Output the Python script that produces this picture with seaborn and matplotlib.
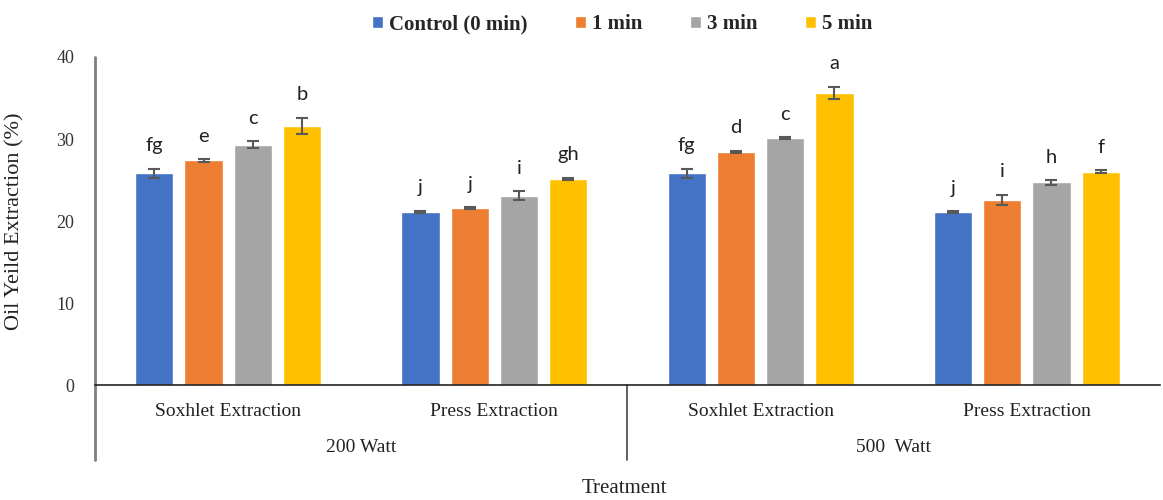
import matplotlib
matplotlib.use("Agg")
import matplotlib.pyplot as plt
import matplotlib.transforms as mtransforms
import seaborn as sns
import pandas as pd
import numpy as np

# data
methods = ["Soxhlet Extraction", "Press Extraction", "Soxhlet Extraction ", "Press Extraction "]
tick_labels = ["Soxhlet Extraction", "Press Extraction", "Soxhlet Extraction", "Press Extraction"]
powers = ["200 Watt", "500  Watt"]
times = ["Control (0 min)", "1 min", "3 min", "5 min"]

control = [25.8, 21.1, 25.8, 21.1]
min1 = [27.4, 21.6, 28.4, 22.6]
min3 = [29.3, 23.1, 30.1, 24.7]
min5 = [31.6, 25.1, 35.6, 26.0]

err_control = [0.55, 0.15, 0.6, 0.1]
err_min1 = [0.15, 0.1, 0.15, 0.6]
err_min3 = [0.45, 0.5, 0.1, 0.3]
err_min5 = [1.0, 0.15, 0.75, 0.2]

letters_control = ["fg", "j", "fg", "j"]
letters_min1 = ["e", "j", "d", "i"]
letters_min3 = ["c", "i", "c", "h"]
letters_min5 = ["b", "gh", "a", "f"]

colors = ["#4472C4", "#ED7D31", "#A5A5A5", "#FFC000"]

rows = []
for t, vals, errs, lets in zip(times,
                               [control, min1, min3, min5],
                               [err_control, err_min1, err_min3, err_min5],
                               [letters_control, letters_min1, letters_min3, letters_min5]):
    for m, v, e, l in zip(methods, vals, errs, lets):
        rows.append({"Method": m, "Time": t, "Yield": v, "Err": e, "Letter": l})
df = pd.DataFrame(rows)

sns.set_theme(style="white")
plt.rcParams["font.family"] = ["Liberation Serif", "DejaVu Serif"]

fig = plt.figure(figsize=(11.63, 5), dpi=100)
ax = fig.add_axes([0.0817, 0.23, 0.9157, 0.656])

sns.barplot(data=df, x="Method", y="Yield", hue="Time", order=methods, hue_order=times,
            palette=colors, width=0.74, gap=0.22, errorbar=None, saturation=1,
            legend=True, ax=ax)

# error bars and significance letters on each bar
for cont, t in zip(ax.containers, times):
    sub = df[df["Time"] == t].set_index("Method").loc[methods]
    xs = [p.get_x() + p.get_width() / 2 for p in cont.patches]
    ax.errorbar(xs, sub["Yield"], yerr=sub["Err"], fmt="none", ecolor="#595959",
                elinewidth=1.5, capsize=4, capthick=1.5)
    for x, v, e, l in zip(xs, sub["Yield"], sub["Err"], sub["Letter"]):
        ax.text(x, v + e + 2.8, l, ha="center", va="center", fontsize=14.5,
                family=["Lato", "DejaVu Sans"], color="#222222")

ax.set_xlim(-0.5, 3.5)
ax.set_ylim(0, 40)
ax.set_yticks([0, 10, 20, 30, 40])
ax.tick_params(axis="y", length=0, labelsize=13, colors="#333333", pad=15)
ax.set_xticks(range(4))
ax.set_xticklabels(tick_labels, fontsize=14)
ax.tick_params(axis="x", length=0, pad=13, colors="#222222")
ax.set_ylabel("Oil Yeild Extraction (%)", fontsize=16, color="#222222")
ax.yaxis.set_label_coords(-0.066, 0.5)
ax.set_xlabel("Treatment", fontsize=15, color="#222222")
ax.xaxis.label.set_va("center")
ax.xaxis.set_label_coords(0.497, -0.317)

for s in ["top", "right", "left"]:
    ax.spines[s].set_visible(False)
ax.spines["bottom"].set_color("#222222")
ax.spines["bottom"].set_linewidth(1.2)

# hierarchical axis: group labels and separators
trans = mtransforms.blended_transform_factory(ax.transData, ax.transAxes)
ax.plot([-0.5, -0.5], [1.0, -0.229], transform=trans, color="#7f7f7f", lw=2, clip_on=False)
ax.plot([1.5, 1.5], [0, -0.229], transform=trans, color="#444444", lw=1.2, clip_on=False)
for i, p in enumerate(powers):
    ax.text(2 * i + 0.5, -0.19, p, transform=trans, ha="center", va="center",
            fontsize=14, color="#222222")

handles, labels = ax.get_legend_handles_labels()
ax.legend_.remove()
fig.legend(handles, labels, loc="center", bbox_to_anchor=(0.535, 0.952), ncol=4,
           frameon=False, handlelength=0.5, handleheight=0.5, handletextpad=0.3,
           columnspacing=2.3, prop={"family": ["Liberation Serif"], "weight": "bold", "size": 15})

fig.savefig("out.png", dpi=100)
